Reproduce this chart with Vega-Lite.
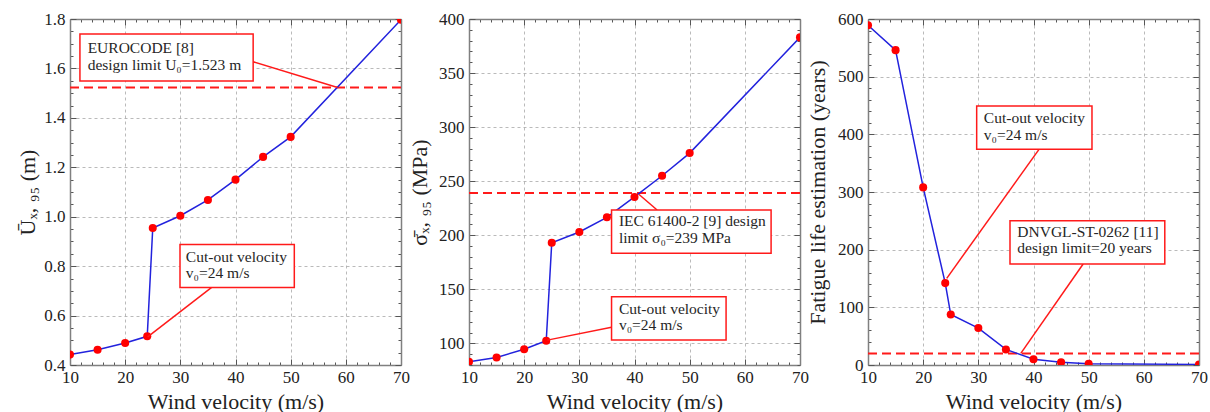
{
  "$schema": "https://vega.github.io/schema/vega-lite/v6.json",
  "background": "white",
  "padding": {"left": 16, "top": 10, "right": 5, "bottom": 0},
  "bounds": "flush",
  "spacing": 68,
  "config": {
    "view": {"stroke": null},
    "font": "'Liberation Serif', 'Times New Roman', 'DejaVu Serif', serif",
    "axis": {
      "labelFont": "'Liberation Serif', 'Times New Roman', 'DejaVu Serif', serif", "labelFontSize": 17, "labelColor": "#222",
      "titleFont": "'Liberation Serif', 'Times New Roman', 'DejaVu Serif', serif", "titleFontSize": 22, "titleFontWeight": "normal", "titleColor": "#222",
      "domainColor": "#808080", "domainWidth": 1.5, "tickColor": "#555", "tickWidth": 1,
      "gridColor": "#a8a8a8", "gridDash": [3, 3], "gridWidth": 0.8,
      "labelOverlap": false, "labelFlush": false
    },
    "text": {"font": "'Liberation Serif', 'Times New Roman', 'DejaVu Serif', serif", "fontSize": 15.5, "color": "#262626", "align": "left", "baseline": "alphabetic"}
  },
  "datasets": {
    "u": [
      {"v": 10, "val": 0.442}, {"v": 15, "val": 0.462}, {"v": 20, "val": 0.489}, {"v": 24, "val": 0.516},
      {"v": 25, "val": 0.954}, {"v": 30, "val": 1.004}, {"v": 35, "val": 1.068}, {"v": 40, "val": 1.15},
      {"v": 45, "val": 1.242}, {"v": 50, "val": 1.323}, {"v": 70, "val": 1.797}
    ],
    "sigma": [
      {"v": 10, "val": 83}, {"v": 15, "val": 87}, {"v": 20, "val": 94.5}, {"v": 24, "val": 102.5},
      {"v": 25, "val": 193}, {"v": 30, "val": 203}, {"v": 35, "val": 216.6}, {"v": 40, "val": 235.4},
      {"v": 45, "val": 255}, {"v": 50, "val": 276}, {"v": 70, "val": 383}
    ],
    "life": [
      {"v": 10, "val": 589}, {"v": 15, "val": 546}, {"v": 20, "val": 308}, {"v": 24, "val": 142},
      {"v": 25, "val": 87.5}, {"v": 30, "val": 64}, {"v": 35, "val": 27}, {"v": 40, "val": 10},
      {"v": 45, "val": 4.6}, {"v": 50, "val": 2.3}, {"v": 70, "val": 1}
    ]
  },
  "hconcat": [
    {
      "width": 331, "height": 346,
      "resolve": {"axis": {"x": "independent", "y": "independent"}},
      "layer": [
        {
          "data": {"values": [{"y": 1.523}]},
          "mark": {"type": "rule", "color": "#ff1a1a", "strokeWidth": 2, "strokeDash": [9, 5]},
          "encoding": {"y": {"field": "y", "type": "quantitative", "axis": null}}
        },
        {
          "data": {"name": "u"},
          "mark": {"type": "line", "color": "#2222dd", "strokeWidth": 1.5, "clip": true},
          "encoding": {
            "x": {"field": "v", "type": "quantitative", "scale": {"domain": [10, 70], "nice": false, "zero": false},
              "axis": {"orient": "bottom", "values": [10,12,14,16,18,20,22,24,26,28,30,32,34,36,38,40,42,44,46,48,50,52,54,56,58,60,62,64,66,68,70],
                "title": "Wind velocity (m/s)", "grid": true,
                "gridOpacity": {"condition": {"test": "datum.value % 10 === 0", "value": 1}, "value": 0},
                "tickSize": {"condition": {"test": "datum.value % 10 === 0", "value": -6}, "value": -3},
                "labelExpr": "datum.value % 10 === 0 ? datum.label : ''", "labelPadding": 10, "titlePadding": 3}},
            "y": {"field": "val", "type": "quantitative", "scale": {"domain": [0.4, 1.8], "nice": false, "zero": false},
              "axis": {"orient": "left", "values": [0.4,0.45,0.5,0.55,0.6,0.65,0.7,0.75,0.8,0.85,0.9,0.95,1.0,1.05,1.1,1.15,1.2,1.25,1.3,1.35,1.4,1.45,1.5,1.55,1.6,1.65,1.7,1.75,1.8],
                "title": "Ūₓ, ₉₅ (m)", "grid": true,
                "gridOpacity": {"condition": {"test": "abs(datum.value*5 - round(datum.value*5)) < 0.001", "value": 1}, "value": 0},
                "tickSize": {"condition": {"test": "abs(datum.value*5 - round(datum.value*5)) < 0.001", "value": -6}, "value": -3},
                "labelExpr": "abs(datum.value*5 - round(datum.value*5)) < 0.001 ? format(datum.value, '.1f') : ''",
                "labelPadding": 11, "titlePadding": 4}}
          }
        },
        {
          "data": {"name": "u"},
          "mark": {"type": "circle", "color": "#ff0000", "size": 65, "opacity": 1, "clip": true},
          "encoding": {
            "x": {"field": "v", "type": "quantitative",
              "axis": {"orient": "top", "values": [10,12,14,16,18,20,22,24,26,28,30,32,34,36,38,40,42,44,46,48,50,52,54,56,58,60,62,64,66,68,70],
                "title": null, "labels": false, "grid": false,
                "tickSize": {"condition": {"test": "datum.value % 10 === 0", "value": -6}, "value": -3}}},
            "y": {"field": "val", "type": "quantitative",
              "axis": {"orient": "right", "values": [0.4,0.45,0.5,0.55,0.6,0.65,0.7,0.75,0.8,0.85,0.9,0.95,1.0,1.05,1.1,1.15,1.2,1.25,1.3,1.35,1.4,1.45,1.5,1.55,1.6,1.65,1.7,1.75,1.8],
                "title": null, "labels": false, "grid": false,
                "tickSize": {"condition": {"test": "abs(datum.value*5 - round(datum.value*5)) < 0.001", "value": -6}, "value": -3}}}
          }
        },
        {
          "data": {"values": [
            {"x1": 43.2, "y1": 1.627, "x2": 58.5, "y2": 1.523},
            {"x1": 35.68, "y1": 0.714, "x2": 24.08, "y2": 0.514}
          ]},
          "mark": {"type": "rule", "color": "#ff1a1a", "strokeWidth": 1.5},
          "encoding": {
            "x": {"field": "x1", "type": "quantitative", "axis": null}, "x2": {"field": "x2"},
            "y": {"field": "y1", "type": "quantitative", "axis": null}, "y2": {"field": "y2"}
          }
        },
        {
          "data": {"values": [
            {"x1": 11.8, "x2": 43.2, "y1": 1.549, "y2": 1.739},
            {"x1": 29.94, "x2": 50.66, "y1": 0.714, "y2": 0.888}
          ]},
          "mark": {"type": "rect", "fill": "white", "stroke": "#ff1a1a", "strokeWidth": 1.5},
          "encoding": {
            "x": {"field": "x1", "type": "quantitative", "axis": null}, "x2": {"field": "x2"},
            "y": {"field": "y1", "type": "quantitative", "axis": null}, "y2": {"field": "y2"}
          }
        },
        {
          "data": {"values": [
            {"x": 13.2, "y": 1.662, "t": "EUROCODE [8]"},
            {"x": 13.2, "y": 1.594, "t": "design limit U₀=1.523 m"},
            {"x": 31.0, "y": 0.818, "t": "Cut-out velocity"},
            {"x": 31.0, "y": 0.751, "t": "v₀=24 m/s"}
          ]},
          "mark": {"type": "text"},
          "encoding": {
            "x": {"field": "x", "type": "quantitative", "axis": null},
            "y": {"field": "y", "type": "quantitative", "axis": null},
            "text": {"field": "t"}
          }
        }
      ]
    },
    {
      "width": 331, "height": 346,
      "resolve": {"axis": {"x": "independent", "y": "independent"}},
      "layer": [
        {
          "data": {"values": [{"y": 239}]},
          "mark": {"type": "rule", "color": "#ff1a1a", "strokeWidth": 2, "strokeDash": [9, 5]},
          "encoding": {"y": {"field": "y", "type": "quantitative", "axis": null}}
        },
        {
          "data": {"name": "sigma"},
          "mark": {"type": "line", "color": "#2222dd", "strokeWidth": 1.5, "clip": true},
          "encoding": {
            "x": {"field": "v", "type": "quantitative", "scale": {"domain": [10, 70], "nice": false, "zero": false},
              "axis": {"orient": "bottom", "values": [10,12,14,16,18,20,22,24,26,28,30,32,34,36,38,40,42,44,46,48,50,52,54,56,58,60,62,64,66,68,70],
                "title": "Wind velocity (m/s)", "grid": true,
                "gridOpacity": {"condition": {"test": "datum.value % 10 === 0", "value": 1}, "value": 0},
                "tickSize": {"condition": {"test": "datum.value % 10 === 0", "value": -6}, "value": -3},
                "labelExpr": "datum.value % 10 === 0 ? datum.label : ''", "labelPadding": 10, "titlePadding": 3}},
            "y": {"field": "val", "type": "quantitative", "scale": {"domain": [80, 400], "nice": false, "zero": false},
              "axis": {"orient": "left", "values": [80,90,100,110,120,130,140,150,160,170,180,190,200,210,220,230,240,250,260,270,280,290,300,310,320,330,340,350,360,370,380,390,400],
                "title": "σ̄ₓ, ₉₅ (MPa)", "grid": true,
                "gridOpacity": {"condition": {"test": "datum.value % 50 === 0", "value": 1}, "value": 0},
                "tickSize": {"condition": {"test": "datum.value % 50 === 0", "value": -6}, "value": -3},
                "labelExpr": "datum.value % 50 === 0 ? datum.label : ''",
                "labelPadding": 11, "titlePadding": 7}}
          }
        },
        {
          "data": {"name": "sigma"},
          "mark": {"type": "circle", "color": "#ff0000", "size": 65, "opacity": 1, "clip": true},
          "encoding": {
            "x": {"field": "v", "type": "quantitative",
              "axis": {"orient": "top", "values": [10,12,14,16,18,20,22,24,26,28,30,32,34,36,38,40,42,44,46,48,50,52,54,56,58,60,62,64,66,68,70],
                "title": null, "labels": false, "grid": false,
                "tickSize": {"condition": {"test": "datum.value % 10 === 0", "value": -6}, "value": -3}}},
            "y": {"field": "val", "type": "quantitative",
              "axis": {"orient": "right", "values": [80,90,100,110,120,130,140,150,160,170,180,190,200,210,220,230,240,250,260,270,280,290,300,310,320,330,340,350,360,370,380,390,400],
                "title": null, "labels": false, "grid": false,
                "tickSize": {"condition": {"test": "datum.value % 50 === 0", "value": -6}, "value": -3}}}
          }
        },
        {
          "data": {"values": [
            {"x1": 44.1, "y1": 223.4, "x2": 40.78, "y2": 237.9},
            {"x1": 35.84, "y1": 114.9, "x2": 24.2, "y2": 103}
          ]},
          "mark": {"type": "rule", "color": "#ff1a1a", "strokeWidth": 1.5},
          "encoding": {
            "x": {"field": "x1", "type": "quantitative", "axis": null}, "x2": {"field": "x2"},
            "y": {"field": "y1", "type": "quantitative", "axis": null}, "y2": {"field": "y2"}
          }
        },
        {
          "data": {"values": [
            {"x1": 35.84, "x2": 64.76, "y1": 183.3, "y2": 223.4},
            {"x1": 35.84, "x2": 56.6, "y1": 103.1, "y2": 143.2}
          ]},
          "mark": {"type": "rect", "fill": "white", "stroke": "#ff1a1a", "strokeWidth": 1.5},
          "encoding": {
            "x": {"field": "x1", "type": "quantitative", "axis": null}, "x2": {"field": "x2"},
            "y": {"field": "y1", "type": "quantitative", "axis": null}, "y2": {"field": "y2"}
          }
        },
        {
          "data": {"values": [
            {"x": 37.17, "y": 208.1, "t": "IEC 61400-2 [9] design"},
            {"x": 37.17, "y": 192.5, "t": "limit σ₀=239 MPa"},
            {"x": 37.17, "y": 127.2, "t": "Cut-out velocity"},
            {"x": 37.17, "y": 112.4, "t": "v₀=24 m/s"}
          ]},
          "mark": {"type": "text"},
          "encoding": {
            "x": {"field": "x", "type": "quantitative", "axis": null},
            "y": {"field": "y", "type": "quantitative", "axis": null},
            "text": {"field": "t"}
          }
        }
      ]
    },
    {
      "width": 331, "height": 346,
      "resolve": {"axis": {"x": "independent", "y": "independent"}},
      "layer": [
        {
          "data": {"values": [{"y": 20}]},
          "mark": {"type": "rule", "color": "#ff1a1a", "strokeWidth": 2, "strokeDash": [9, 5]},
          "encoding": {"y": {"field": "y", "type": "quantitative", "axis": null}}
        },
        {
          "data": {"name": "life"},
          "mark": {"type": "line", "color": "#2222dd", "strokeWidth": 1.5, "clip": true},
          "encoding": {
            "x": {"field": "v", "type": "quantitative", "scale": {"domain": [10, 70], "nice": false, "zero": false},
              "axis": {"orient": "bottom", "values": [10,12,14,16,18,20,22,24,26,28,30,32,34,36,38,40,42,44,46,48,50,52,54,56,58,60,62,64,66,68,70],
                "title": "Wind velocity (m/s)", "grid": true,
                "gridOpacity": {"condition": {"test": "datum.value % 10 === 0", "value": 1}, "value": 0},
                "tickSize": {"condition": {"test": "datum.value % 10 === 0", "value": -6}, "value": -3},
                "labelExpr": "datum.value % 10 === 0 ? datum.label : ''", "labelPadding": 10, "titlePadding": 3}},
            "y": {"field": "val", "type": "quantitative", "scale": {"domain": [0, 600], "nice": false},
              "axis": {"orient": "left", "values": [0,20,40,60,80,100,120,140,160,180,200,220,240,260,280,300,320,340,360,380,400,420,440,460,480,500,520,540,560,580,600],
                "title": "Fatigue life estimation (years)", "grid": true,
                "gridOpacity": {"condition": {"test": "datum.value % 100 === 0", "value": 1}, "value": 0},
                "tickSize": {"condition": {"test": "datum.value % 100 === 0", "value": -6}, "value": -3},
                "labelExpr": "datum.value % 100 === 0 ? datum.label : ''",
                "labelPadding": 11, "titlePadding": 8}}
          }
        },
        {
          "data": {"name": "life"},
          "mark": {"type": "circle", "color": "#ff0000", "size": 65, "opacity": 1, "clip": true},
          "encoding": {
            "x": {"field": "v", "type": "quantitative",
              "axis": {"orient": "top", "values": [10,12,14,16,18,20,22,24,26,28,30,32,34,36,38,40,42,44,46,48,50,52,54,56,58,60,62,64,66,68,70],
                "title": null, "labels": false, "grid": false,
                "tickSize": {"condition": {"test": "datum.value % 10 === 0", "value": -6}, "value": -3}}},
            "y": {"field": "val", "type": "quantitative",
              "axis": {"orient": "right", "values": [0,20,40,60,80,100,120,140,160,180,200,220,240,260,280,300,320,340,360,380,400,420,440,460,480,500,520,540,560,580,600],
                "title": null, "labels": false, "grid": false,
                "tickSize": {"condition": {"test": "datum.value % 100 === 0", "value": -6}, "value": -3}}}
          }
        },
        {
          "data": {"values": [
            {"x1": 41.0, "y1": 374, "x2": 24.27, "y2": 150.3},
            {"x1": 49.0, "y1": 175.2, "x2": 37.7, "y2": 20.1}
          ]},
          "mark": {"type": "rule", "color": "#ff1a1a", "strokeWidth": 1.5},
          "encoding": {
            "x": {"field": "x1", "type": "quantitative", "axis": null}, "x2": {"field": "x2"},
            "y": {"field": "y1", "type": "quantitative", "axis": null}, "y2": {"field": "y2"}
          }
        },
        {
          "data": {"values": [
            {"x1": 29.7, "x2": 50.6, "y1": 374, "y2": 449.1},
            {"x1": 35.74, "x2": 63.8, "y1": 175.2, "y2": 250.3}
          ]},
          "mark": {"type": "rect", "fill": "white", "stroke": "#ff1a1a", "strokeWidth": 1.5},
          "encoding": {
            "x": {"field": "x1", "type": "quantitative", "axis": null}, "x2": {"field": "x2"},
            "y": {"field": "y1", "type": "quantitative", "axis": null}, "y2": {"field": "y2"}
          }
        },
        {
          "data": {"values": [
            {"x": 31.0, "y": 419.1, "t": "Cut-out velocity"},
            {"x": 31.0, "y": 390.2, "t": "v₀=24 m/s"},
            {"x": 37.07, "y": 221.5, "t": "DNVGL-ST-0262 [11]"},
            {"x": 37.07, "y": 193.8, "t": "design limit=20 years"}
          ]},
          "mark": {"type": "text"},
          "encoding": {
            "x": {"field": "x", "type": "quantitative", "axis": null},
            "y": {"field": "y", "type": "quantitative", "axis": null},
            "text": {"field": "t"}
          }
        }
      ]
    }
  ]
}
